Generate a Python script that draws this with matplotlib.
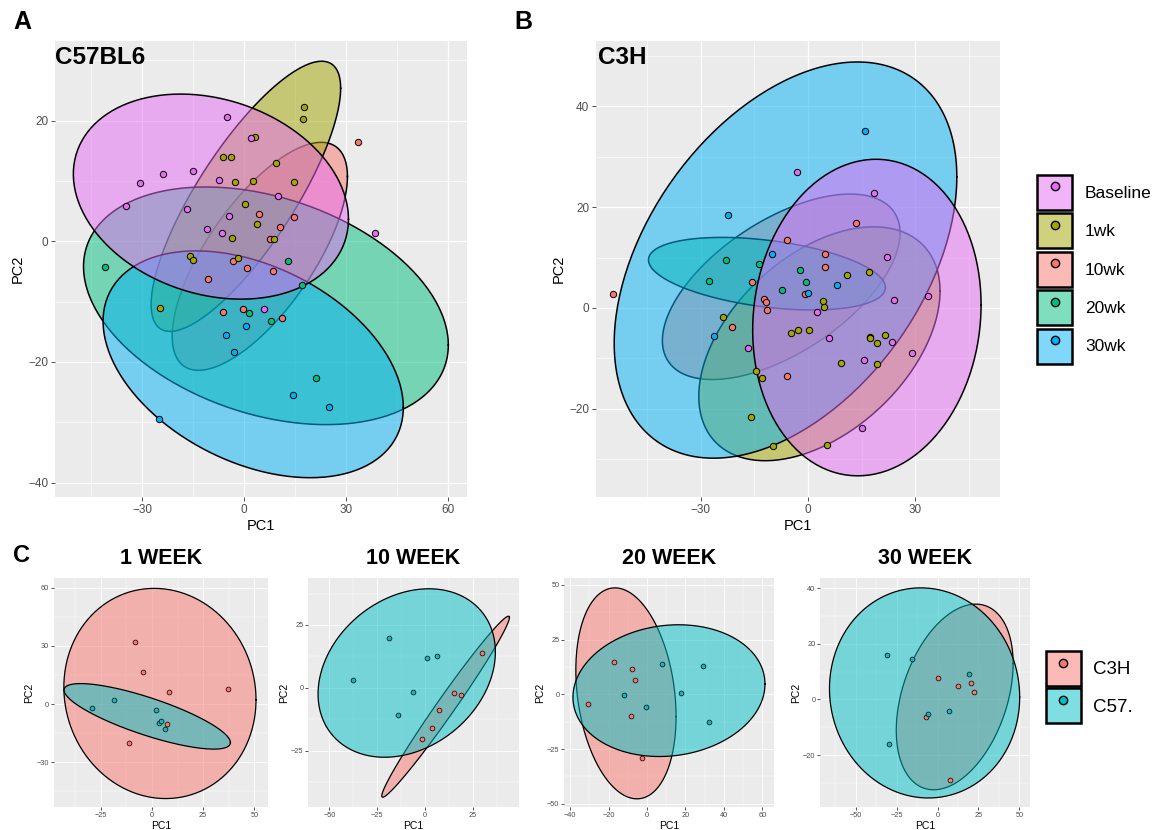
import numpy as np
import matplotlib
matplotlib.use("Agg")
import matplotlib.pyplot as plt
from matplotlib.ticker import MultipleLocator
from matplotlib.patches import Patch
from matplotlib.lines import Line2D
from matplotlib.colors import to_rgba

plt.rcParams['font.family'] = ['Liberation Sans', 'DejaVu Sans']

# ---------------- data ----------------
GROUPS = ["10wk", "1wk", "20wk", "30wk", "Baseline"]          # draw order (ggplot level order)
LEGEND_ORDER = ["Baseline", "1wk", "10wk", "20wk", "30wk"]
GROUP_COLORS = {"10wk": "#F8766D", "1wk": "#A3A500", "20wk": "#00BF7D",
                "30wk": "#00B0F6", "Baseline": "#E76BF3"}

# Panel A (C57BL6) scores
A_PC1 = {
    "Baseline": [-5.2, 2.1, -24.0, -15.0, -30.6, -7.5, -34.7, -16.7, 10.0, -4.5, -11.0, -6.4, 38.4, 5.7],
    "1wk": [17.5, 17.3, 3.3, -6.2, -3.8, 9.3, -2.7, 2.5, 14.6, 0.1, 3.8, -3.7, 8.7, -15.9, -15.2, -1.8, -24.9],
    "10wk": [33.5, 4.3, 14.6, 10.5, 7.6, -3.2, 0.7, 8.6, -10.6, -6.3, -0.4, 11.0],
    "20wk": [-41.0, 12.9, 17.1, 1.5, 7.9, 21.1],
    "30wk": [0.4, -5.4, -2.9, 14.3, 25.1, -25.0],
}
A_PC2 = {
    "Baseline": [20.6, 17.2, 11.2, 11.7, 9.7, 10.2, 5.9, 5.4, 7.5, 4.2, 2.1, 1.3, 1.4, -11.2],
    "1wk": [22.2, 20.2, 17.3, 13.9, 14.0, 12.9, 9.8, 10.0, 9.9, 6.1, 2.9, 0.6, 0.3, -2.4, -3.1, -2.7, -11.1],
    "10wk": [16.5, 4.6, 4.1, 2.4, 0.4, -3.2, -4.4, -4.9, -6.3, -11.7, -11.2, -12.8],
    "20wk": [-4.3, -3.3, -7.3, -11.9, -13.2, -22.6],
    "30wk": [-14.0, -15.6, -18.3, -25.5, -27.4, -29.5],
}
# ellipse: centre x, centre y, half-extent x, half-extent y, correlation
A_ELL = {
    "10wk": (4.6, -2.5, 25.8, 18.9, 0.70),
    "1wk": (0.5, 7.45, 27.9, 22.4, 0.80),
    "20wk": (6.4, -10.7, 53.7, 19.7, -0.33),
    "30wk": (2.65, -20.4, 44.2, 18.8, -0.38),
    "Baseline": (-9.8, 7.4, 40.5, 17.0, -0.22),
}

# Panel B (C3H) scores
B_PC1 = {
    "Baseline": [-3.0, 18.6, 22.0, 24.2, 33.6, 2.4, 5.8, 23.4, -16.8, 15.7, 29.1, 15.1],
    "1wk": [17.1, 10.9, 4.3, 4.6, -23.8, -2.8, -4.8, 0.4, 17.3, 17.5, 21.6, 19.3, 9.2, 19.3, -14.5, -12.8, -15.9, -9.9, 5.2],
    "10wk": [-54.5, 13.5, -5.9, 4.7, 4.7, -15.8, -0.8, -12.2, -11.9, -11.6, -21.3, -5.9],
    "20wk": [-23.1, -27.7, -13.7, -2.1, -0.6, -7.4],
    "30wk": [16.1, -22.4, -10.2, 8.0, 0.0, -26.2],
}
B_PC2 = {
    "Baseline": [27.0, 22.8, 10.2, 1.5, 2.4, -0.8, -6.0, -6.8, -8.0, -10.4, -9.0, -23.8],
    "1wk": [7.1, 6.5, 1.4, 0.1, -1.8, -4.3, -4.9, -4.3, -5.7, -5.9, -5.4, -7.0, -10.9, -11.2, -12.5, -13.9, -21.7, -27.4, -27.1],
    "10wk": [2.7, 16.8, 13.4, 10.7, 8.1, 5.2, 2.7, 1.7, 1.1, -0.4, -3.7, -13.5],
    "20wk": [9.6, 5.3, 8.8, 7.6, 5.2, 3.6],
    "30wk": [35.2, 18.5, 10.8, 4.6, 3.0, -5.5],
}
B_ELL = {
    "10wk": (-7.5, 4.2, 33.3, 18.4, 0.58),
    "1wk": (3.2, -7.1, 33.8, 23.2, 0.45),
    "20wk": (-11.5, 6.8, 33.2, 7.2, -0.38),
    "30wk": (-6.3, 9.5, 48.0, 39.3, 0.42),
    "Baseline": (16.5, -1.9, 32.0, 31.4, 0.08),
}

# Panel C: strain comparison at each timepoint
STRAINS = ["C3H", "C57."]
STRAIN_COLORS = {"C3H": "#F8766D", "C57.": "#00BFC4"}
WEEK_TITLES = ["1 WEEK", "10 WEEK", "20 WEEK", "30 WEEK"]

C_PC1 = [
    {"C3H": [-8.5, -4.3, 8.5, 36.9, 7.4, -11.4], "C57.": [-29.2, -18.4, 1.9, 3.5, 4.5, 6.3]},
    {"C3H": [29.9, 15.1, 18.9, 7.6, 3.6, -1.4], "C57.": [-18.75, -37.8, 1.0, 6.1, -6.1, -14.1]},
    {"C3H": [-17.0, -8.0, -6.1, -30.8, -8.5, -2.4], "C57.": [8.0, 28.9, 17.6, -11.8, -0.3, 32.0]},
    {"C3H": [0.4, 12.6, 20.3, 22.0, -7.3, 7.9], "C57.": [-30.9, -15.4, 19.3, 6.9, -5.7, -29.5]},
]
C_PC2 = [
    {"C3H": [32.2, 16.5, 6.1, 7.6, -10.1, -19.9], "C57.": [-2.1, 2.1, -3.1, -9.5, -8.5, -13.0]},
    {"C3H": [14.0, -2.0, -2.9, -9.0, -16.0, -20.4], "C57.": [19.7, 3.3, 12.0, 12.6, -1.7, -10.8]},
    {"C3H": [15.0, 11.5, 6.7, -4.3, -9.7, -29.0], "C57.": [13.7, 12.9, 0.8, -0.3, -5.7, -12.6]},
    {"C3H": [7.8, 4.9, 6.0, 2.8, -6.3, -28.8], "C57.": [16.0, 14.6, 9.2, -4.2, -5.2, -16.1]},
]
C_ELL = [
    {"C3H": (3.9, 5.5, 46.9, 54.2, -0.06), "C57.": (-2.3, -6.3, 40.6, 16.9, -0.80)},
    {"C3H": (10.85, -7.5, 33.4, 36.0, 0.985), "C57.": (-9.5, 5.9, 46.4, 33.5, 0.25)},
    {"C3H": (-11.0, 0.46, 26.1, 48.2, -0.22), "C57.": (11.4, 1.7, 50.0, 30.1, 0.10)},
    {"C3H": (10.5, 0.9, 35.7, 33.4, 0.36), "C57.": (-7.9, 2.35, 58.1, 37.8, -0.04)},
]

# ---------------- layout helpers ----------------
W, H = 1158, 830
fig = plt.figure(figsize=(W / 100, H / 100), dpi=100)


def add_axes_px(left, right, top, bottom):
    return fig.add_axes([left / W, 1 - bottom / H, (right - left) / W, (bottom - top) / H])


def ellipse_xy(cx, cy, rx, ry, rho, n=240):
    t = np.linspace(0, 2 * np.pi, n)
    return cx + rx * np.cos(t), cy + ry * (rho * np.cos(t) + np.sqrt(1 - rho ** 2) * np.sin(t))


def style_axes(ax, xlim, ylim, xmaj, ymaj, small=False):
    ax.set_facecolor("#EBEBEB")
    for s in ax.spines.values():
        s.set_visible(False)
    ax.set_xlim(*xlim)
    ax.set_ylim(*ylim)
    ax.xaxis.set_major_locator(MultipleLocator(xmaj))
    ax.xaxis.set_minor_locator(MultipleLocator(xmaj / 2))
    ax.yaxis.set_major_locator(MultipleLocator(ymaj))
    ax.yaxis.set_minor_locator(MultipleLocator(ymaj / 2))
    glw = 0.6 if small else 0.9
    ax.grid(True, which="major", color="white", lw=glw)
    ax.grid(True, which="minor", color="white", lw=glw * 0.5)
    ax.set_axisbelow(True)
    fs = 5.3 if small else 8.5
    ax.tick_params(which="major", length=2.0 if small else 2.75, width=0.6, color="#333333",
                   labelsize=fs, labelcolor="#4D4D4D", pad=1.5 if small else 2.2)
    ax.tick_params(which="minor", length=0)
    lfs = 7.5 if small else 10.5
    ax.set_xlabel("PC1", fontsize=lfs, labelpad=1 if small else 2)
    ax.set_ylabel("PC2", fontsize=lfs, labelpad=1.5 if small else 2.5)


def draw_panel(ax, order, colors, pc1, pc2, ell, ms, elw, plw):
    for g in order:
        ex, ey = ellipse_xy(*ell[g])
        ax.fill(ex, ey, facecolor=colors[g], alpha=0.5, edgecolor="none", zorder=2)
        ax.plot(ex, ey, color="black", lw=elw, zorder=2)
    for g in order:
        ax.scatter(pc1[g], pc2[g], s=ms, facecolor=colors[g], edgecolor="black",
                   linewidths=plw, zorder=3)


# ---------------- panel A ----------------
axA = add_axes_px(55, 467, 41, 497)
style_axes(axA, (-55.7, 65.6), (-42.4, 33.2), 30, 20)
draw_panel(axA, GROUPS, GROUP_COLORS, A_PC1, A_PC2, A_ELL, 21, 1.1, 0.7)

# ---------------- panel B ----------------
axB = add_axes_px(596, 1000, 41, 497)
style_axes(axB, (-59.4, 53.8), (-37.5, 52.96), 30, 20)
draw_panel(axB, GROUPS, GROUP_COLORS, B_PC1, B_PC2, B_ELL, 21, 1.1, 0.7)

# ---------------- panel C ----------------
C_BOUNDS = [(54, 267.7), (308.3, 518.7), (564.3, 774.3), (820.3, 1030)]
C_XLIM = [(-47.8, 56.5), (-61.0, 49.1), (-43.1, 66.25), (-71.6, 56.5)]
C_YLIM = [(-53.2, 65.2), (-47.5, 43.8), (-51.6, 53.3), (-38.8, 43.8)]
C_XMAJ = [25, 25, 20, 25]
C_YMAJ = [30, 25, 25, 20]
for i in range(4):
    l, r = C_BOUNDS[i]
    ax = add_axes_px(l, r, 577.7, 807.3)
    style_axes(ax, C_XLIM[i], C_YLIM[i], C_XMAJ[i], C_YMAJ[i], small=True)
    draw_panel(ax, STRAINS, STRAIN_COLORS, C_PC1[i], C_PC2[i], C_ELL[i], 12, 0.9, 0.5)
    ax.set_title(WEEK_TITLES[i], fontsize=15.5, fontweight="bold", pad=10)

# ---------------- texts ----------------
def ftext(x, y, s, **kw):
    fig.text(x / W, 1 - y / H, s, **kw)


ftext(22, 22, "A", fontsize=18, fontweight="bold", ha="center", va="center")
ftext(523, 22, "B", fontsize=18, fontweight="bold", ha="center", va="center")
ftext(21, 555, "C", fontsize=17, fontweight="bold", ha="center", va="center")
ftext(55, 57.5, "C57BL6", fontsize=17.5, fontweight="bold", ha="left", va="center")
ftext(598, 57.5, "C3H", fontsize=17.5, fontweight="bold", ha="left", va="center")

# ---------------- legends ----------------
def legend_handles(names, colors):
    hs = []
    for n in names:
        hs.append((Patch(facecolor=to_rgba(colors[n], 0.5), edgecolor="black", lw=1.8),
                   Line2D([], [], marker="o", ls="", ms=6.0, mfc=colors[n], mec="black", mew=1)))
    return hs


legB = fig.legend(legend_handles(LEGEND_ORDER, GROUP_COLORS), LEGEND_ORDER,
                  loc="upper left", bbox_to_anchor=(1037 / W, 1 - 175 / H),
                  frameon=False, fontsize=12.5, handlelength=2.02, handleheight=2.72,
                  labelspacing=0.2, handletextpad=0.75, borderpad=0, borderaxespad=0)
legC = fig.legend(legend_handles(STRAINS, STRAIN_COLORS), STRAINS,
                  loc="upper left", bbox_to_anchor=(1045.7 / W, 1 - 651 / H),
                  frameon=False, fontsize=13.5, handlelength=1.867, handleheight=2.495,
                  labelspacing=0.13, handletextpad=0.68, borderpad=0, borderaxespad=0)

fig.savefig("out.png", dpi=100)
